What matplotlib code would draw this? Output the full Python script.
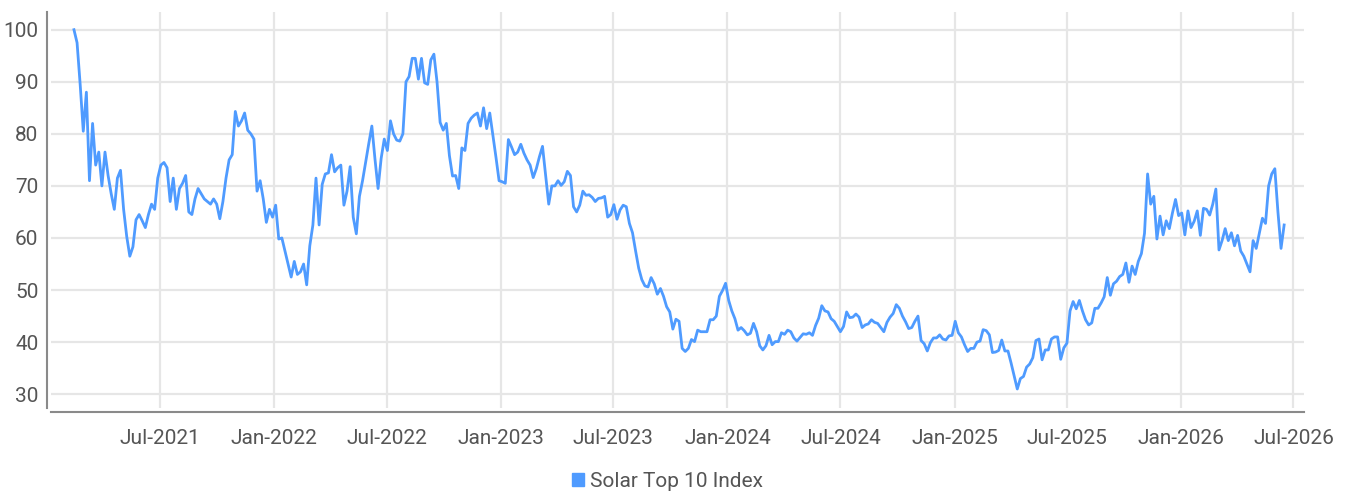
import matplotlib
matplotlib.use("Agg")
import matplotlib.pyplot as plt
import matplotlib.dates as mdates
from matplotlib.patches import Patch
import pandas as pd

# Solar Top 10 Index, every 5 days
# starting 2021-02-12
start_date = "2021-02-12"
step = "5D"

vals_2021 = [
    100, 97.5, 89.5, 80.5, 88, 71, 82, 74, 76.5, 70,
    76.5, 72, 68.5, 65.5, 71.5, 73, 65.5, 60.3, 56.5, 58.3,
    63.5, 64.5, 63.3, 62, 64.5, 66.5, 65.5, 71.5, 74, 74.5,
    73.5, 67, 71.5, 65.5, 69.5, 70.5, 72, 65, 64.5, 67.5,
    69.5, 68.5, 67.5, 67, 66.5, 67.5, 66.5, 63.7, 67, 71.5,
    75, 76, 84.3, 81.5, 82.5, 84, 80.7,
]
vals_2022 = [
    80, 79, 69, 71, 67.5, 63, 65.5, 64, 66.3, 59.8,
    60, 57.5, 55, 52.5, 55.5, 53, 53.5, 55, 51, 58.5,
    62.5, 71.5, 62.5, 70.3, 72.3, 72.5, 76, 72.7, 73.5, 74,
    66.3, 69, 73.7, 64, 60.8, 68, 71, 74.6, 78.1, 81.5,
    75.2, 69.5, 75.3, 79, 76.8, 82.5, 80, 78.8, 78.6, 80,
    90, 91, 94.5, 94.5, 90.5, 94.5, 89.8, 89.5, 94.2, 95.3,
    90, 82.2,
]
vals_2023 = [
    80.7, 82, 75.8, 71.9, 72, 69.5, 77.3, 76.8, 82, 83,
    83.6, 84, 81.5, 85, 81, 84, 79.8, 75.5, 71, 70.8,
    70.5, 78.9, 77.5, 76, 76.5, 78, 76.3, 75, 74, 71.6,
    73.3, 75.6, 77.6, 72, 66.5, 70, 70, 71, 70.1, 70.8,
    72.8, 72, 66, 65, 66.3, 69, 68.2, 68.3, 67.8, 67,
    67.6, 67.7, 68, 64, 64.5, 66.4, 63.6, 65.4, 66.3, 66,
    62.8, 61, 57.5, 54.2, 52, 50.8, 50.6, 52.4, 51.2, 49.2,
    50.3, 48.8, 46.8, 45.8, 42.5, 44.4, 44, 38.8, 38.2, 38.8,
    40.5, 40.1, 42.3, 42, 42, 42, 44.3, 44.3, 45, 48.8,
    49.9, 51.3,
]
vals_2024 = [
    48, 46, 44.5, 42.3, 42.8, 42.2, 41.4, 41.7, 43.6, 42,
    39.3, 38.5, 39.3, 41.3, 39.5, 40.1, 40.1, 41.8, 41.5, 42.3,
    42, 40.8, 40.2, 40.9, 41.6, 41.5, 41.8, 41.3, 43.2, 44.6,
    47, 46, 45.8, 44.5, 44, 43, 42, 43, 45.8, 44.7,
    44.8, 45.4, 44.8, 42.8, 43.3, 43.5, 44.3, 43.8, 43.6, 42.8,
    42, 43.8, 44.8, 45.5, 47.2, 46.5, 45, 43.9, 42.6, 42.8,
    44, 45, 40.3, 39.7, 38.3, 39.9, 40.8, 40.8, 41.4, 40.6,
    40.4, 41.2, 41.3, 44, 41.8, 41, 39.5,
]
vals_2025 = [
    38.2, 38.8, 38.8, 40, 40.2, 42.4, 42.2, 41.4, 38, 38.1,
    38.4, 40.4, 38.3, 38.3, 36, 33.5, 31, 33, 33.4, 35.2,
    35.8, 37, 40.3, 40.6, 36.6, 38.5, 38.5, 40.6, 41, 41,
    36.7, 38.9, 39.8, 46, 47.8, 46.4, 48, 46, 44.3, 43.3,
    43.7, 46.5, 46.5, 47.5, 48.7, 52.4, 49, 51.2, 51.7, 52.6,
    53, 55.2, 51.5, 54.6, 53, 55.5, 57, 60.9, 72.3, 66.5,
    68, 59.8, 64.2, 60.6, 63.3, 61.8, 64.8, 67.4, 64.3, 64.8,
    60.6, 65.2, 62, 63.2, 65.2, 60.5,
]
vals_2026 = [
    65.7, 65.5, 64.4, 66.5, 69.4, 57.7, 59.5, 61.8, 59.5, 61,
    58.5, 60.5, 57.5, 56.5, 55, 53.5, 59.5, 58, 60.9, 63.8,
    62.8, 70, 72.3, 73.3, 65, 58, 62.5,
]
index_values = vals_2021 + vals_2022 + vals_2023 + vals_2024 + vals_2025 + vals_2026
dates = pd.date_range(start_date, periods=len(index_values), freq=step)

y_ticks = [30, 40, 50, 60, 70, 80, 90, 100]
x_ticks = pd.to_datetime([
    "2021-07-01", "2022-01-01", "2022-07-01", "2023-01-01", "2023-07-01",
    "2024-01-01", "2024-07-01", "2025-01-01", "2025-07-01", "2026-01-01",
    "2026-07-01",
])
series_name = "Solar Top 10 Index"

line_color = "#4f9bff"
text_color = "#555555"
grid_color = "#e6e6e6"

plt.rcParams["font.family"] = ["Roboto", "DejaVu Sans"]
plt.rcParams["font.weight"] = "normal"

W, H = 1351, 495
fig = plt.figure(figsize=(W / 100, H / 100), dpi=100)
ax = fig.add_axes([51 / W, (H - 408) / H, (1304 - 51) / W, (408 - 12) / H])

ax.plot(dates, index_values, color=line_color, linewidth=2.0, label=series_name,
        solid_joinstyle="round")

ax.set_xlim(pd.Timestamp("2021-01-06"), pd.Timestamp("2026-07-18"))
ax.set_ylim(27.35, 103.4)
ax.set_yticks(y_ticks)
ax.set_xticks(x_ticks)
ax.xaxis.set_major_formatter(mdates.DateFormatter("%b-%Y"))

ax.grid(True, color=grid_color, linewidth=1.6)
ax.set_axisbelow(True)
for side in ["top", "right"]:
    ax.spines[side].set_visible(False)
for side in ["left", "bottom"]:
    ax.spines[side].set_color("#8a8a8a")
    ax.spines[side].set_linewidth(1.5)
    ax.spines[side].set_position(("outward", 3))

ax.tick_params(axis="both", length=0, labelsize=15, labelcolor=text_color)
ax.tick_params(axis="x", pad=12)
ax.tick_params(axis="y", pad=6)

# legend marker is a small square, not a line
fig.legend(handles=[Patch(color=line_color, label=series_name)], loc="center",
           bbox_to_anchor=(0.494, 0.027), frameon=False, fontsize=15,
           handlelength=0.6, handleheight=0.6, handletextpad=0.3, labelcolor=text_color)

fig.savefig("out.png", dpi=100)
